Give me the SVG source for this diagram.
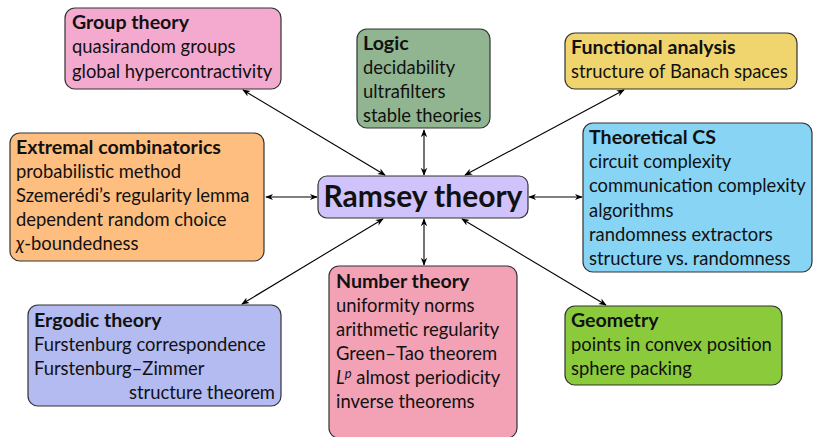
<svg xmlns="http://www.w3.org/2000/svg" width="813" height="437" viewBox="0 0 813 437">
<defs>
<marker id="ah" viewBox="0 0 10 10" refX="9" refY="5" markerWidth="8" markerHeight="8" orient="auto-start-reverse" markerUnits="userSpaceOnUse">
<path d="M0,1 L10,5 L0,9 L3,5 Z" fill="#000"/>
</marker>
<style>
.box{stroke:#333;stroke-width:1.2}
text{font-family:"Lato","Noto Sans",sans-serif;font-size:18.4px;fill:#111}
.t{font-weight:bold;font-size:19.6px}
.big{font-size:30px;font-weight:bold}
.c{stroke:#000;stroke-width:1.1;fill:none;marker-start:url(#ah);marker-end:url(#ah)}
</style>
</defs>
<rect width="813" height="437" fill="#fff"/>
<g id="connectors">
<line class="c" x1="243" y1="90" x2="385" y2="175"/>
<line class="c" x1="424" y1="130" x2="424" y2="175"/>
<line class="c" x1="624" y1="90" x2="465" y2="175"/>
<line class="c" x1="266" y1="197" x2="317" y2="197"/>
<line class="c" x1="529" y1="197" x2="582" y2="197"/>
<line class="c" x1="242" y1="304" x2="383" y2="219"/>
<line class="c" x1="424" y1="219" x2="424" y2="265"/>
<line class="c" x1="606" y1="305" x2="462" y2="219"/>
</g>
<g id="group">
<rect class="box" x="65" y="8" width="216" height="81" rx="10" fill="#F4AACE"/>
<text class="t" x="72" y="29">Group theory</text>
<text x="72" y="53">quasirandom groups</text>
<text x="72" y="78">global hypercontractivity</text>
</g>
<g id="logic">
<rect class="box" x="357" y="29" width="133" height="99" rx="10" fill="#90B590"/>
<text class="t" x="363" y="50">Logic</text>
<text x="363" y="74">decidability</text>
<text x="363" y="98">ultrafilters</text>
<text x="363" y="122">stable theories</text>
</g>
<g id="functional">
<rect class="box" x="565" y="33" width="232" height="56" rx="10" fill="#F0D56F"/>
<text class="t" x="571" y="54">Functional analysis</text>
<text x="571" y="78">structure of Banach spaces</text>
</g>
<g id="tcs">
<rect class="box" x="583" y="123" width="229" height="149" rx="10" fill="#88D4F5"/>
<text class="t" x="589" y="144">Theoretical CS</text>
<text x="589" y="168">circuit complexity</text>
<text x="589" y="192">communication complexity</text>
<text x="589" y="217">algorithms</text>
<text x="589" y="241">randomness extractors</text>
<text x="589" y="265">structure vs. randomness</text>
</g>
<g id="extremal">
<rect class="box" x="10" y="133" width="254" height="128" rx="10" fill="#FDBE80"/>
<text class="t" x="16" y="154">Extremal combinatorics</text>
<text x="16" y="178">probabilistic method</text>
<text x="16" y="202">Szemerédi’s regularity lemma</text>
<text x="16" y="226">dependent random choice</text>
<text x="16" y="250"><tspan font-style="italic">χ</tspan>-boundedness</text>
</g>
<g id="ramsey">
<rect class="box" x="318" y="176" width="210" height="42" rx="9" fill="#D0C2FB"/>
<text class="big" x="423" y="207" text-anchor="middle">Ramsey theory</text>
</g>
<g id="ergodic">
<rect class="box" x="28" y="305" width="253" height="101" rx="10" fill="#B3BBF1"/>
<text class="t" x="34" y="327">Ergodic theory</text>
<text x="34" y="351">Furstenburg correspondence</text>
<text x="34" y="375">Furstenburg–Zimmer</text>
<text x="275" y="399" text-anchor="end">structure theorem</text>
</g>
<g id="number">
<rect class="box" x="329" y="266" width="188" height="172" rx="10" fill="#F3A2B5"/>
<text class="t" x="336" y="288">Number theory</text>
<text x="336" y="312">uniformity norms</text>
<text x="336" y="336">arithmetic regularity</text>
<text x="336" y="360">Green–Tao theorem</text>
<text x="336" y="384"><tspan font-style="italic">L</tspan><tspan font-style="italic" font-size="13" dy="-6">p</tspan><tspan dy="6"> almost periodicity</tspan></text>
<text x="336" y="408">inverse theorems</text>
</g>
<g id="geometry">
<rect class="box" x="565" y="306" width="217" height="79" rx="10" fill="#8BCB3B"/>
<text class="t" x="571" y="327">Geometry</text>
<text x="571" y="351">points in convex position</text>
<text x="571" y="375">sphere packing</text>
</g>
</svg>
